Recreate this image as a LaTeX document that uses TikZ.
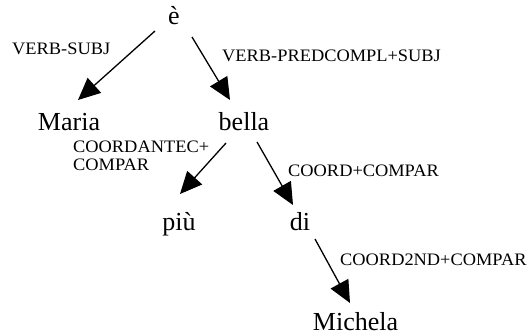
\documentclass[tikz,border=0pt]{standalone}
\usepackage{fontspec}
\setmainfont{Liberation Serif}
\newfontfamily\lblfont[FakeStretch=1.05]{Liberation Serif}
\usetikzlibrary{arrows.meta}
\begin{document}
\begin{tikzpicture}[x=1pt,y=1pt,
  word/.style={inner sep=0pt,anchor=base,font=\fontsize{26}{31}\selectfont},
  lbl/.style={inner sep=0pt,anchor=base west,align=left,font=\lblfont\fontsize{17.5}{18}\selectfont},
  arr/.style={line width=1.3pt,-{Triangle[length=22pt,width=20pt]}}]
\useasboundingbox (0,0) rectangle (532,-334);
\node[word] (e) at (174,-25) {è};
\node[word] (maria) at (69,-130) {Maria};
\node[word] (bella) at (244,-130) {bella};
\node[word] (piu) at (179,-230) {più};
\node[word] (di) at (300,-230) {di};
\node[word] (michela) at (355.5,-330.5) {Michela};
\draw[arr] ([shift={(-19pt,-6pt)}]e.base) -- ([shift={(9pt,30pt)}]maria.base);
\draw[arr] ([shift={(18pt,-12pt)}]e.base) -- ([shift={(-14pt,30pt)}]bella.base);
\draw[arr] ([shift={(-18pt,-13pt)}]bella.base) -- ([shift={(1pt,36pt)}]piu.base);
\draw[arr] ([shift={(13pt,-12pt)}]bella.base) -- ([shift={(-7pt,25pt)}]di.base);
\draw[arr] ([shift={(15pt,-9pt)}]di.base) -- ([shift={(-5.5pt,27.5pt)}]michela.base);
\node[lbl] (l1) at (12,-55) {VERB-SUBJ};
\node[lbl] (l2) at (222,-62) {VERB-PREDCOMPL+SUBJ};
\node[lbl,anchor=north west] (l3) at (73,-141) {COORDANTEC+\\COMPAR};
\node[lbl] (l4) at (288,-176) {COORD+COMPAR};
\node[lbl] (l5) at (340,-265) {COORD2ND+COMPAR};
\end{tikzpicture}
\end{document}
